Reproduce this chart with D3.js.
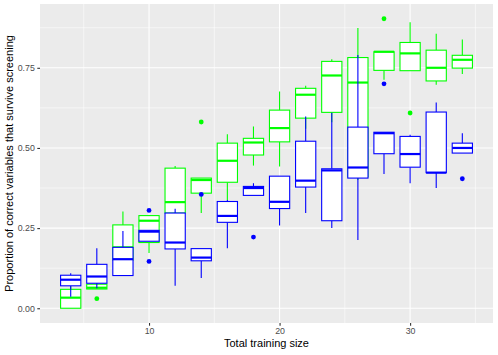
<!DOCTYPE html>
<html>
<head>
<meta charset="utf-8">
<script src="https://cdn.jsdelivr.net/npm/d3@7"></script>
<style>
    body { margin: 0; background: #fff; }
    text { font-family: "Liberation Sans", Arial, sans-serif; }
</style>
</head>
<body>
<div id="chart"></div>
<script>
var sizes = [4, 6, 8, 10, 12, 14, 16, 18, 20, 22, 24, 26, 28, 30, 32, 34];

// green boxes (drawn first)
var greenLower  = [0.000, 0.060, 0.120, 0.172, 0.250, 0.297, 0.338, 0.445, 0.442, 0.560, 0.580, 0.400, 0.713, 0.741, 0.697, 0.731];
var greenQ1     = [0.000, 0.060, 0.150, 0.205, 0.297, 0.359, 0.393, 0.478, 0.519, 0.593, 0.611, 0.410, 0.742, 0.741, 0.709, 0.749];
var greenMedian = [0.033, 0.064, 0.190, 0.273, 0.331, 0.400, 0.460, 0.517, 0.562, 0.666, 0.726, 0.704, 0.800, 0.795, 0.750, 0.775];
var greenQ3     = [0.059, 0.075, 0.260, 0.289, 0.437, 0.406, 0.515, 0.530, 0.618, 0.686, 0.770, 0.782, 0.800, 0.829, 0.805, 0.789];
var greenUpper  = [0.070, 0.090, 0.302, 0.289, 0.444, 0.406, 0.543, 0.567, 0.676, 0.694, 0.777, 0.874, 0.800, 0.892, 0.856, 0.838];
var greenOutliers = [[6, 0.030], [14, 0.581], [28, 0.903], [30, 0.609]];

// blue boxes
var blueLower  = [0.036, 0.062, 0.102, 0.209, 0.070, 0.094, 0.187, 0.352, 0.258, 0.297, 0.250, 0.213, 0.419, 0.390, 0.375, 0.484];
var blueQ1     = [0.070, 0.078, 0.102, 0.209, 0.185, 0.148, 0.268, 0.352, 0.311, 0.378, 0.273, 0.406, 0.482, 0.440, 0.423, 0.484];
var blueMedian = [0.089, 0.099, 0.153, 0.239, 0.205, 0.158, 0.288, 0.375, 0.332, 0.398, 0.430, 0.439, 0.546, 0.481, 0.423, 0.500];
var blueQ3     = [0.103, 0.137, 0.190, 0.243, 0.297, 0.186, 0.333, 0.380, 0.412, 0.521, 0.435, 0.565, 0.549, 0.536, 0.612, 0.515];
var blueUpper  = [0.109, 0.187, 0.241, 0.243, 0.310, 0.186, 0.338, 0.390, 0.412, 0.598, 0.610, 0.790, 0.549, 0.541, 0.642, 0.546];
var blueOutliers = [[10, 0.305], [10, 0.146], [14, 0.355], [18, 0.222], [28, 0.700], [34, 0.404]];

var xTicks = [10, 20, 30];
var yTicks = [0, 0.25, 0.5, 0.75];

var width = 498, height = 355,
    panel = { left: 40, right: 493, top: 4, bottom: 323 },
    boxWidth = 1.55;

var x = d3.scaleLinear().domain([1.6475, 36.35]).range([panel.left, panel.right]);
var y = d3.scaleLinear().domain([-0.046, 0.949]).range([panel.bottom, panel.top]);

var svg = d3.select('#chart').append('svg')
    .attr('width', width)
    .attr('height', height);

svg.append('rect')
    .attr('x', panel.left).attr('y', panel.top)
    .attr('width', panel.right - panel.left)
    .attr('height', panel.bottom - panel.top)
    .attr('fill', '#ebebeb');

// grid
var grid = svg.append('g');
grid.selectAll('.xminor').data([5, 15, 25, 35]).enter().append('line')
    .attr('x1', function(d){ return x(d); }).attr('x2', function(d){ return x(d); })
    .attr('y1', panel.top).attr('y2', panel.bottom)
    .attr('stroke', '#fff').attr('stroke-width', 0.55);
grid.selectAll('.yminor').data([0.125, 0.375, 0.625, 0.875]).enter().append('line')
    .attr('y1', function(d){ return y(d); }).attr('y2', function(d){ return y(d); })
    .attr('x1', panel.left).attr('x2', panel.right)
    .attr('stroke', '#fff').attr('stroke-width', 0.55);
grid.selectAll('.xmajor').data(xTicks).enter().append('line')
    .attr('x1', function(d){ return x(d); }).attr('x2', function(d){ return x(d); })
    .attr('y1', panel.top).attr('y2', panel.bottom)
    .attr('stroke', '#fff').attr('stroke-width', 1.1);
grid.selectAll('.ymajor').data(yTicks).enter().append('line')
    .attr('y1', function(d){ return y(d); }).attr('y2', function(d){ return y(d); })
    .attr('x1', panel.left).attr('x2', panel.right)
    .attr('stroke', '#fff').attr('stroke-width', 1.1);

function drawBoxes(color, lower, q1, median, q3, upper, outliers) {
    var stats = sizes.map(function(s, i) {
        return { x: s, lo: lower[i], q1: q1[i], med: median[i], q3: q3[i], hi: upper[i] };
    });
    var g = svg.append('g');

    g.selectAll('.out').data(outliers).enter().append('circle')
        .attr('cx', function(d){ return x(d[0]); })
        .attr('cy', function(d){ return y(d[1]); })
        .attr('r', 2.4)
        .attr('fill', color);

    var box = g.selectAll('.box').data(stats).enter().append('g');

    box.append('line')
        .attr('x1', function(d){ return x(d.x); }).attr('x2', function(d){ return x(d.x); })
        .attr('y1', function(d){ return y(d.hi); }).attr('y2', function(d){ return y(d.q3); })
        .attr('stroke', color).attr('stroke-width', 1.1);
    box.append('line')
        .attr('x1', function(d){ return x(d.x); }).attr('x2', function(d){ return x(d.x); })
        .attr('y1', function(d){ return y(d.q1); }).attr('y2', function(d){ return y(d.lo); })
        .attr('stroke', color).attr('stroke-width', 1.1);

    box.append('rect')
        .attr('x', function(d){ return x(d.x - boxWidth / 2); })
        .attr('width', function(d){ return x(d.x + boxWidth / 2) - x(d.x - boxWidth / 2); })
        .attr('y', function(d){ return y(d.q3); })
        .attr('height', function(d){ return Math.max(0, y(d.q1) - y(d.q3)); })
        .attr('fill', '#fff')
        .attr('stroke', color).attr('stroke-width', 1.1);

    box.append('line')
        .attr('x1', function(d){ return x(d.x - boxWidth / 2); })
        .attr('x2', function(d){ return x(d.x + boxWidth / 2); })
        .attr('y1', function(d){ return y(d.med); }).attr('y2', function(d){ return y(d.med); })
        .attr('stroke', color).attr('stroke-width', 2.2);
}

drawBoxes('#00ff00', greenLower, greenQ1, greenMedian, greenQ3, greenUpper, greenOutliers);
drawBoxes('#0000ff', blueLower, blueQ1, blueMedian, blueQ3, blueUpper, blueOutliers);

// axes
var xAxis = svg.append('g')
    .attr('transform', 'translate(0,' + panel.bottom + ')')
    .call(d3.axisBottom(x).tickValues(xTicks).tickSize(2.7).tickPadding(2.5).tickFormat(d3.format('d')));
var yAxis = svg.append('g')
    .attr('transform', 'translate(' + panel.left + ',0)')
    .call(d3.axisLeft(y).tickValues(yTicks).tickSize(2.7).tickPadding(2.5).tickFormat(d3.format('.2f')));

[xAxis, yAxis].forEach(function(a) {
    a.select('.domain').remove();
    a.selectAll('line').attr('stroke', '#333').attr('stroke-width', 1.1);
    a.selectAll('text')
        .attr('fill', '#4d4d4d')
        .style('font-size', '8.8px')
        .style('font-family', '"Liberation Sans", Arial, sans-serif');
});

svg.append('text')
    .attr('x', (panel.left + panel.right) / 2)
    .attr('y', 347)
    .attr('text-anchor', 'middle')
    .attr('fill', '#000')
    .style('font-size', '11px')
    .text('Total training size');

svg.append('text')
    .attr('transform', 'translate(13,' + ((panel.top + panel.bottom) / 2) + ') rotate(-90)')
    .attr('text-anchor', 'middle')
    .attr('fill', '#000')
    .style('font-size', '11px')
    .text('Proportion of correct variables that survive screening');
</script>
</body>
</html>
